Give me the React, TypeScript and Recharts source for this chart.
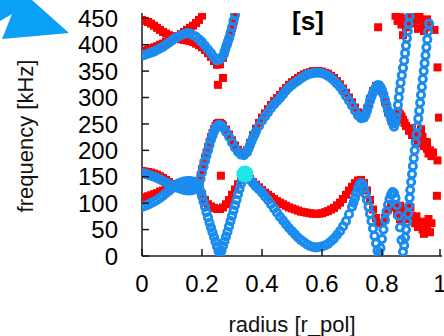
import React from 'react';
import { ScatterChart, Scatter, XAxis, YAxis } from 'recharts';

type Pt = [number, number];

// axis ticks
const xTicks = [0, 0.2, 0.4, 0.6, 0.8, 1];
const xInnerTicks = [0.2, 0.4, 0.6, 0.8];
const yTicks = [0, 50, 100, 150, 200, 250, 300, 350, 400, 450];

// red (filled squares) as [radius, kHz]
const redTopFall: Pt[] = [[0,447],[0.01,445],[0.02,443],[0.03,440],[0.04,436],[0.05,432],[0.06,428],[0.07,424],[0.08,421],[0.09,418],[0.1,416],[0.11,413],[0.12,411],[0.13,410],[0.14,409],[0.15,408],[0.16,407],[0.17,405],[0.18,402],[0.19,399],[0.2,395],[0.21,390],[0.22,384],[0.23,377],[0.24,369],[0.25,362],[0.26,363],[0.27,375],[0.275,385],[0.28,395],[0.285,403],[0.29,412],[0.295,422],[0.3,432],[0.305,443],[0.31,455]];
const redTopRise: Pt[] = [[0,388],[0.01,389],[0.02,391],[0.03,393],[0.04,395],[0.05,397],[0.06,400],[0.07,402],[0.08,405],[0.09,407],[0.1,410],[0.11,413],[0.12,416],[0.13,420],[0.14,424],[0.15,428],[0.16,432],[0.17,436],[0.18,441],[0.19,447],[0.2,455]];
const redSpots: Pt[] = [[0.253,324],[0.27,337],[0.263,152],[0.787,433]];
const redLensA: Pt[] = [[0,161],[0.01,160],[0.02,159],[0.03,158],[0.04,156],[0.05,154],[0.06,151],[0.07,148],[0.08,144],[0.09,140],[0.1,136],[0.11,134],[0.12,133],[0.13,132],[0.14,131],[0.15,131],[0.16,132],[0.17,133],[0.18,133],[0.19,132]];
const redLensB: Pt[] = [[0,110],[0.01,111],[0.02,113],[0.03,115],[0.04,117],[0.05,119],[0.06,122],[0.07,124],[0.08,127],[0.09,130],[0.1,132]];
const redMidBand: Pt[] = [[0.195,152],[0.2,164],[0.205,175],[0.21,186],[0.215,196],[0.22,206],[0.225,216],[0.23,225],[0.235,233],[0.24,240],[0.245,246],[0.25,250],[0.255,252],[0.26,252],[0.265,250],[0.27,247],[0.28,239],[0.29,230],[0.3,219],[0.31,209],[0.32,201],[0.33,196],[0.34,195],[0.35,200],[0.36,214],[0.37,229],[0.38,241],[0.39,252],[0.4,262],[0.41,270],[0.42,278],[0.43,286],[0.44,293],[0.45,299],[0.46,305],[0.47,312],[0.48,318],[0.49,324],[0.5,329],[0.51,333],[0.52,337],[0.53,341],[0.54,344],[0.55,346],[0.56,348],[0.57,350],[0.58,350],[0.59,350],[0.6,349],[0.61,347],[0.62,345],[0.63,341],[0.64,337],[0.65,331],[0.66,325],[0.67,317],[0.68,309],[0.69,300],[0.7,291],[0.71,281],[0.72,272],[0.73,266],[0.74,267],[0.75,279],[0.76,297],[0.77,312],[0.78,322],[0.79,323],[0.8,312],[0.81,292],[0.82,272],[0.83,258],[0.84,250]];
const redU: Pt[] = [[0.2,117],[0.21,106],[0.22,98],[0.23,94],[0.24,91],[0.25,89],[0.26,89],[0.27,92],[0.28,98],[0.29,106],[0.3,116],[0.31,126],[0.32,136],[0.33,147],[0.337,155]];
const redLowBand: Pt[] = [[0.34,156],[0.35,151],[0.36,146],[0.37,140],[0.38,135],[0.39,130],[0.4,125],[0.41,120],[0.42,116],[0.43,112],[0.44,108],[0.45,104],[0.46,101],[0.47,98],[0.48,95],[0.49,92],[0.5,90],[0.51,88],[0.52,86],[0.53,84],[0.54,83],[0.55,82],[0.56,81],[0.57,80],[0.58,80],[0.59,80],[0.6,81],[0.61,83],[0.62,85],[0.63,88],[0.64,91],[0.65,96],[0.66,101],[0.67,108],[0.68,116],[0.69,124],[0.7,131],[0.71,138],[0.72,143],[0.73,144],[0.74,138],[0.75,124],[0.76,106],[0.77,88],[0.78,72],[0.79,62],[0.8,62],[0.81,72],[0.82,88],[0.83,98],[0.84,92],[0.85,80],[0.86,70]];
const redRightDesc: Pt[] = [[0.855,272],[0.86,268],[0.865,264],[0.87,258],[0.875,252],[0.88,246],[0.89,237],[0.9,229],[0.91,223],[0.92,218],[0.93,213],[0.94,208],[0.95,203],[0.96,200],[0.97,196],[0.9,242],[0.92,232],[0.935,226],[0.945,216],[0.955,194],[0.965,189],[0.93,240],[0.95,215]];
const redTopCluster: Pt[] = [[0.845,455],[0.852,445],[0.86,452],[0.865,438],[0.87,418],[0.875,450],[0.88,433],[0.89,447],[0.9,454],[0.905,440],[0.915,446],[0.92,430],[0.925,455],[0.935,441],[0.94,426],[0.95,448],[0.96,433],[0.975,428]];
const redLowCluster: Pt[] = [[0.86,95],[0.865,82],[0.875,78],[0.88,82],[0.885,90],[0.89,70],[0.895,92],[0.9,76],[0.91,62],[0.915,75],[0.92,55],[0.93,65],[0.935,50],[0.94,42],[0.95,57],[0.955,70],[0.96,45],[0.965,62]];
const redEdge: Pt[] = [[0.985,357],[0.99,262],[0.985,181],[0.983,114]];

// blue (open circles)
const blueTop: Pt[] = [[0,379],[0.01,381],[0.02,383],[0.03,385],[0.04,387],[0.05,390],[0.06,393],[0.07,396],[0.08,400],[0.09,404],[0.1,408],[0.11,412],[0.12,415],[0.13,418],[0.14,420],[0.15,422],[0.16,421],[0.17,418],[0.18,415],[0.19,410],[0.2,405],[0.21,398],[0.22,391],[0.23,384],[0.24,376],[0.25,370],[0.26,372],[0.27,379],[0.275,387],[0.28,396],[0.285,404],[0.29,412],[0.295,422],[0.3,433],[0.305,445],[0.31,456]];
const blueMid: Pt[] = [[0,93],[0.01,95],[0.02,97],[0.03,100],[0.04,103],[0.05,106],[0.06,110],[0.07,114],[0.08,119],[0.09,123],[0.1,128],[0.11,133],[0.12,137],[0.13,139],[0.14,141],[0.15,142],[0.16,142],[0.17,141],[0.18,139],[0.19,136],[0.195,146],[0.2,158],[0.205,169],[0.21,180],[0.215,190],[0.22,200],[0.225,210],[0.23,220],[0.235,228],[0.24,236],[0.245,242],[0.25,246],[0.255,248],[0.26,248],[0.265,246],[0.27,243],[0.28,235],[0.29,226],[0.3,215],[0.31,205],[0.32,197],[0.33,192],[0.34,191],[0.35,196],[0.355,203],[0.36,210],[0.365,217],[0.37,224],[0.375,230],[0.38,236],[0.39,246],[0.4,256],[0.41,264],[0.42,272],[0.43,280],[0.44,287],[0.45,293],[0.46,299],[0.47,306],[0.48,313],[0.49,319],[0.5,324],[0.51,328],[0.52,332],[0.53,336],[0.54,340],[0.55,343],[0.56,345],[0.57,346],[0.58,347],[0.59,347],[0.6,346],[0.61,344],[0.62,341],[0.63,337],[0.64,332],[0.65,326],[0.66,320],[0.67,312],[0.68,303],[0.69,294],[0.7,285],[0.71,275],[0.72,266],[0.73,261],[0.74,262],[0.745,267],[0.75,275],[0.755,284],[0.76,294],[0.765,302],[0.77,309],[0.775,315],[0.78,320],[0.785,323],[0.79,323],[0.795,320],[0.8,314],[0.805,306],[0.81,296],[0.815,286],[0.82,276],[0.825,268],[0.83,260],[0.835,252],[0.84,245]];
const blueLow: Pt[] = [[0,157],[0.01,156],[0.02,154],[0.03,152],[0.04,150],[0.05,148],[0.06,145],[0.07,142],[0.08,139],[0.09,136],[0.1,133],[0.11,131],[0.12,129],[0.13,127],[0.14,125],[0.15,124],[0.16,124],[0.17,125],[0.18,127],[0.19,130],[0.195,122],[0.2,113],[0.205,103],[0.21,93],[0.215,83],[0.22,73],[0.225,63],[0.23,54],[0.235,45],[0.24,36],[0.245,27],[0.25,18],[0.255,9],[0.26,3],[0.265,10],[0.27,19],[0.275,28],[0.28,37],[0.285,46],[0.29,56],[0.295,66],[0.3,76],[0.305,86],[0.31,96],[0.315,106],[0.32,117],[0.325,127],[0.33,137],[0.335,146],[0.34,153],[0.345,152],[0.35,150],[0.36,144],[0.37,138],[0.38,131],[0.39,126],[0.4,120],[0.41,113],[0.42,106],[0.43,98],[0.44,90],[0.45,82],[0.46,74],[0.47,67],[0.48,60],[0.49,53],[0.5,47],[0.51,41],[0.52,35],[0.53,30],[0.54,26],[0.55,22],[0.56,19],[0.57,17],[0.58,16],[0.59,17],[0.6,18],[0.61,20],[0.62,23],[0.63,28],[0.64,33],[0.65,40],[0.66,47],[0.67,56],[0.68,66],[0.69,79],[0.7,93],[0.705,101],[0.71,110],[0.715,119],[0.72,128],[0.725,135],[0.73,138],[0.735,136],[0.74,128],[0.745,117],[0.75,106],[0.755,93],[0.76,80],[0.765,66],[0.77,52],[0.775,38],[0.78,24],[0.785,10],[0.79,3],[0.795,15],[0.8,32],[0.805,50],[0.81,68],[0.815,84],[0.82,97],[0.825,108],[0.83,116],[0.835,121],[0.84,119],[0.845,110],[0.85,96],[0.855,76],[0.86,54],[0.865,30],[0.87,8]];
const blueSteep1: Pt[] = [[0.845,252],[0.848,262],[0.85,272],[0.853,286],[0.856,300],[0.859,314],[0.862,328],[0.866,342],[0.87,356],[0.874,370],[0.877,384],[0.88,398],[0.883,412],[0.886,426],[0.889,440],[0.892,454]];
const blueSteep2: Pt[] = [[0.874,20],[0.877,35],[0.88,50],[0.884,65],[0.887,80],[0.89,95],[0.892,110],[0.894,125],[0.897,140],[0.9,155],[0.903,170],[0.906,185],[0.909,200],[0.912,215],[0.915,230],[0.918,245],[0.921,260],[0.924,275],[0.927,290],[0.93,305],[0.933,320],[0.936,335],[0.939,350],[0.942,365],[0.945,380],[0.948,395],[0.951,410],[0.954,425],[0.957,440]];

// highlighted point
const cyanPoint: Pt[] = [[0.343, 155]];

const pts = (...sets: Pt[][]) => sets.flat().map(([r, f]) => ({ r, f }));

const redData = pts(redTopFall, redTopRise, redSpots, redLensA, redLensB, redMidBand, redU, redLowBand, redRightDesc, redTopCluster, redLowCluster, redEdge);
const blueData = pts(blueTop, blueMid, blueLow, blueSteep1, blueSteep2);
const cyanData = pts(cyanPoint);

const FONT = "'Liberation Sans', Arial, sans-serif";
const INK = '#1a1a1a';
const frame = { stroke: INK, strokeWidth: 1.5 };

const RedSquare = (p: any) => <rect x={p.cx - 4} y={p.cy - 4} width={8} height={8} fill="#ff0000" />;
const BlueRing = (p: any) => <circle cx={p.cx} cy={p.cy} r={3.6} fill="none" stroke="#1a8cf0" strokeWidth={2.9} />;
const CyanDot = (p: any) => <circle cx={p.cx} cy={p.cy} r={8.5} fill="#1ee6e6" />;

const LeftTick = (p: any) => (
  <g>
    <line x1={p.x} x2={p.x + 7} y1={p.y} y2={p.y} stroke={INK} strokeWidth={1.5} />
    <text x={p.x - 24} y={p.y} dy="0.36em" textAnchor="end" fontFamily={FONT} fontSize={24} fill="#000">
      {p.payload.value}
    </text>
  </g>
);

const BottomTick = (p: any) => (
  <g>
    <line x1={p.x} x2={p.x} y1={p.y} y2={p.y - 7} stroke={INK} strokeWidth={1.5} />
    <text x={p.x} y={p.y + 27} dy="0.36em" textAnchor="middle" fontFamily={FONT} fontSize={24} fill="#000">
      {p.payload.value}
    </text>
  </g>
);

const TopTick = (p: any) => <line x1={p.x} x2={p.x} y1={p.y} y2={p.y + 7} stroke={INK} strokeWidth={1.5} />;
const RightTick = (p: any) => <line x1={p.x} x2={p.x - 7} y1={p.y} y2={p.y} stroke={INK} strokeWidth={1.5} />;

function AxisTitle({ tx, ty, turn = 0, text }: any) {
  return (
    <text
      x={tx}
      y={ty}
      dy="0.35em"
      textAnchor="middle"
      transform={turn ? `rotate(${turn} ${tx} ${ty})` : undefined}
      fontFamily={FONT}
      fontSize={22}
      fill="#111"
    >
      {text}
    </text>
  );
}

export default function App() {
  return (
    <div style={{ position: 'absolute', left: 0, top: 0, width: 444, height: 336, background: '#fff', overflow: 'hidden' }}>
      <ScatterChart width={444} height={336} margin={{ top: 13, right: 2, bottom: 40, left: 0 }}>
        <XAxis
          type="number"
          dataKey="r"
          domain={[0, 1]}
          ticks={xTicks}
          allowDataOverflow
          height={40}
          tickLine={false}
          tickSize={0}
          tickMargin={0}
          tick={BottomTick}
          axisLine={frame}
          label={<AxisTitle tx={292} ty={324} text="radius [r_pol]" />}
        />
        <XAxis
          xAxisId="top"
          orientation="top"
          type="number"
          domain={[0, 1]}
          ticks={xInnerTicks}
          allowDataOverflow
          height={0}
          tickLine={false}
          tickSize={0}
          tickMargin={0}
          tick={TopTick}
          axisLine={frame}
        />
        <YAxis
          type="number"
          dataKey="f"
          domain={[0, 460]}
          ticks={yTicks}
          allowDataOverflow
          width={142}
          tickLine={false}
          tickSize={0}
          tickMargin={0}
          tick={LeftTick}
          axisLine={frame}
          label={<AxisTitle tx={25} ty={136} turn={-90} text="frequency [kHz]" />}
        />
        <YAxis
          yAxisId="right"
          orientation="right"
          type="number"
          domain={[0, 460]}
          ticks={yTicks}
          allowDataOverflow
          width={0}
          tickLine={false}
          tickSize={0}
          tickMargin={0}
          tick={RightTick}
          axisLine={frame}
        />
        <Scatter data={redData} dataKey="f" shape={RedSquare} isAnimationActive={false} />
        <Scatter data={blueData} dataKey="f" shape={BlueRing} isAnimationActive={false} />
        <Scatter data={cyanData} dataKey="f" shape={CyanDot} isAnimationActive={false} />
      </ScatterChart>
      <svg width={444} height={336} style={{ position: 'absolute', left: 0, top: 0, pointerEvents: 'none' }}>
        <polygon points="0,0 32,0 69,33 2,39 12,14 0,21" fill="#0aa0f5" />
        <rect x={276} y={4} width={61} height={20} fill="#fff" />
        <text x={308} y={21} dy="0.35em" textAnchor="middle" fontFamily={FONT} fontWeight="bold" fontSize={26} fill="#000">
          [s]
        </text>
      </svg>
    </div>
  );
}
